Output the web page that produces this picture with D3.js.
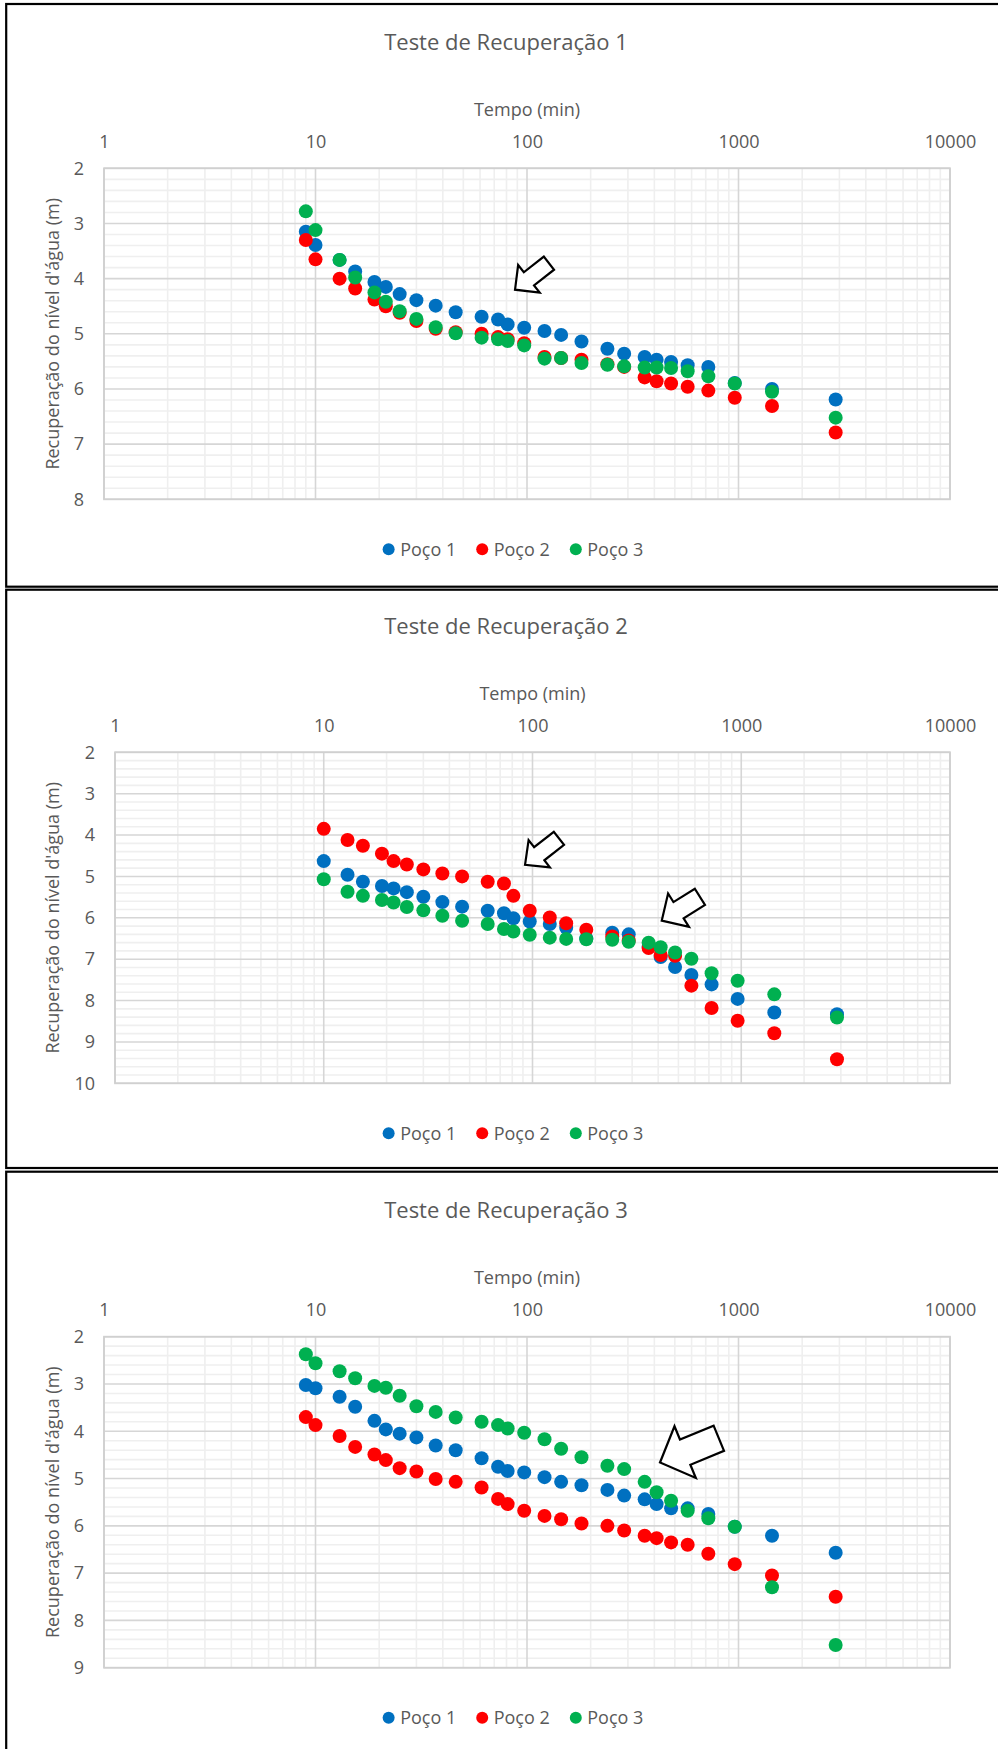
<!DOCTYPE html>
<html>
<head>
<meta charset="utf-8">
<script src="https://cdn.jsdelivr.net/npm/d3@7"></script>
<style>
  html, body { margin: 0; padding: 0; background: #fff; }
  svg { display: block; }
  text { font-family: "Open Sans", sans-serif; fill: #595959; }
</style>
</head>
<body>
<svg id="fig" width="998" height="1749"></svg>
<script>
// ---- Tempos de leitura (min) ----
const tempos1 = [9, 10, 13, 15.4, 19, 21.5, 25, 30, 37, 46, 61, 73, 81, 97, 121, 145, 181, 240, 288, 360, 410, 480, 575, 720, 960, 1440, 2880];
const tempos2 = [10, 13, 15.4, 19, 21.6, 25, 30, 37, 46, 61, 73, 81, 97, 121, 145, 181, 241, 289, 360, 411, 482, 577, 721, 961, 1440, 2875];
const tempos3 = [9, 10, 13, 15.4, 19, 21.5, 25, 30, 37, 46, 61, 73, 81, 97, 121, 145, 181, 240, 288, 360, 410, 480, 575, 720, 960, 1440, 2880];

// ---- Teste de Recuperação 1: nível d'água (m) ----
const poco1_t1 = [3.15, 3.39, 3.66, 3.87, 4.06, 4.15, 4.28, 4.39, 4.49, 4.61, 4.69, 4.74, 4.83, 4.89, 4.95, 5.02, 5.14, 5.27, 5.36, 5.42, 5.47, 5.51, 5.57, 5.60, 5.89, 6.00, 6.19];
const poco2_t1 = [3.30, 3.65, 4.00, 4.18, 4.38, 4.50, 4.62, 4.77, 4.91, 4.97, 5.00, 5.06, 5.10, 5.17, 5.42, 5.44, 5.47, 5.55, 5.60, 5.79, 5.86, 5.90, 5.96, 6.03, 6.16, 6.31, 6.79];
const poco3_t1 = [2.78, 3.12, 3.66, 3.98, 4.25, 4.42, 4.59, 4.73, 4.88, 4.99, 5.07, 5.10, 5.13, 5.21, 5.45, 5.44, 5.53, 5.56, 5.59, 5.61, 5.61, 5.62, 5.68, 5.77, 5.90, 6.05, 6.52];

// ---- Teste de Recuperação 2 ----
const poco1_t2 = [4.63, 4.96, 5.13, 5.23, 5.29, 5.38, 5.49, 5.62, 5.73, 5.83, 5.89, 6.01, 6.09, 6.15, 6.24, 6.50, 6.36, 6.40, 6.70, 6.95, 7.19, 7.38, 7.61, 7.96, 8.29, 8.33];
const poco2_t2 = [3.85, 4.12, 4.26, 4.45, 4.63, 4.71, 4.83, 4.93, 5.00, 5.13, 5.17, 5.47, 5.83, 5.99, 6.13, 6.29, 6.45, 6.55, 6.73, 6.90, 6.92, 7.64, 8.18, 8.49, 8.79, 9.42];
const poco3_t2 = [5.07, 5.37, 5.47, 5.57, 5.63, 5.74, 5.82, 5.95, 6.07, 6.15, 6.27, 6.33, 6.41, 6.48, 6.51, 6.52, 6.53, 6.58, 6.60, 6.71, 6.84, 6.99, 7.34, 7.52, 7.85, 8.41];

// ---- Teste de Recuperação 3 ----
const poco1_t3 = [3.02, 3.09, 3.27, 3.48, 3.78, 3.96, 4.05, 4.13, 4.30, 4.40, 4.57, 4.75, 4.84, 4.87, 4.97, 5.07, 5.14, 5.24, 5.36, 5.44, 5.54, 5.63, 5.63, 5.75, 6.02, 6.21, 6.57];
const poco2_t3 = [3.70, 3.87, 4.10, 4.33, 4.49, 4.61, 4.78, 4.85, 5.01, 5.07, 5.19, 5.43, 5.54, 5.68, 5.79, 5.86, 5.95, 6.00, 6.10, 6.21, 6.26, 6.35, 6.40, 6.59, 6.81, 7.05, 7.50];
const poco3_t3 = [2.37, 2.56, 2.73, 2.88, 3.04, 3.08, 3.25, 3.47, 3.59, 3.71, 3.80, 3.87, 3.94, 4.03, 4.17, 4.37, 4.55, 4.73, 4.80, 5.07, 5.29, 5.47, 5.68, 5.84, 6.02, 7.30, 8.52];

// ---- Rótulos ----
const nomesPocos = ["Poço 1", "Poço 2", "Poço 3"];
const coresPocos = ["#0070C0", "#FF0000", "#00B050"];
const ticksTempo = [1, 10, 100, 1000, 10000];
const titulos = ["Teste de Recuperação 1", "Teste de Recuperação 2", "Teste de Recuperação 3"];
const rotuloX = "Tempo (min)";
const rotuloY = "Recuperação do nível d'água (m)";

// ---- Layout de cada painel ----
const paineis = [
  { titulo: titulos[0], tempos: tempos1, series: [poco1_t1, poco2_t1, poco3_t1], yMax: 8,
    caixa: { top: 4, bottom: 586.7 }, plot: { x0: 104, x1: 950, y0: 168.3, y1: 499.3 },
    setas: [ { t: 87.8, v: 4.20, angulo: -38, comp: 43, cabeca: 17.6, largCabeca: 35, largHaste: 16.6 } ] },
  { titulo: titulos[1], tempos: tempos2, series: [poco1_t2, poco2_t2, poco3_t2], yMax: 10,
    caixa: { top: 589.7, bottom: 1168 }, plot: { x0: 115, x1: 950, y0: 752.3, y1: 1083.3 },
    setas: [ { t: 92.1, v: 4.72, angulo: -38, comp: 43, cabeca: 18, largCabeca: 34.5, largHaste: 16.6 },
             { t: 416, v: 6.07, angulo: -32, comp: 45, cabeca: 19.8, largCabeca: 39.4, largHaste: 19.2 } ] },
  { titulo: titulos[2], tempos: tempos3, series: [poco1_t3, poco2_t3, poco3_t3], yMax: 9,
    caixa: { top: 1171.7, bottom: 1770 }, plot: { x0: 104, x1: 950, y0: 1336.7, y1: 1667.7 },
    setas: [ { t: 425.5, v: 4.66, angulo: -22.4, comp: 63.6, cabeca: 27.2, largCabeca: 56, largHaste: 27.3 } ] }
];

const svg = d3.select("#fig");

function desenhaPainel(p) {
  const g = svg.append("g");

  // moldura do painel
  g.append("rect")
    .attr("x", 6.2).attr("y", p.caixa.top)
    .attr("width", 1000).attr("height", p.caixa.bottom - p.caixa.top)
    .attr("fill", "none").attr("stroke", "#000").attr("stroke-width", 2.2);

  const x = d3.scaleLog().domain([1, 10000]).range([p.plot.x0, p.plot.x1]);
  const y = d3.scaleLinear().domain([2, p.yMax]).range([p.plot.y0, p.plot.y1]);

  // grade secundária
  const menoresX = [];
  [1, 10, 100, 1000].forEach(d => { for (let k = 2; k <= 9; k++) menoresX.push(d * k); });
  const menoresY = d3.range(2, p.yMax + 1e-9, 0.2).filter(v => Math.abs(v - Math.round(v)) > 1e-6);
  const grade = g.append("g");
  grade.selectAll("line.mx").data(menoresX).join("line")
    .attr("x1", d => x(d)).attr("x2", d => x(d))
    .attr("y1", p.plot.y0).attr("y2", p.plot.y1)
    .attr("stroke", "#efefef").attr("stroke-width", 1.6);
  grade.selectAll("line.my").data(menoresY).join("line")
    .attr("x1", p.plot.x0).attr("x2", p.plot.x1)
    .attr("y1", d => y(d)).attr("y2", d => y(d))
    .attr("stroke", "#efefef").attr("stroke-width", 1.6);

  // grade principal
  const principaisY = d3.range(2, p.yMax + 1);
  grade.selectAll("line.Mx").data(ticksTempo).join("line")
    .attr("x1", d => x(d)).attr("x2", d => x(d))
    .attr("y1", p.plot.y0).attr("y2", p.plot.y1)
    .attr("stroke", "#d6d6d6").attr("stroke-width", 1.6);
  grade.selectAll("line.My").data(principaisY).join("line")
    .attr("x1", p.plot.x0).attr("x2", p.plot.x1)
    .attr("y1", d => y(d)).attr("y2", d => y(d))
    .attr("stroke", "#d6d6d6").attr("stroke-width", 1.6);
  g.append("rect")
    .attr("x", p.plot.x0).attr("y", p.plot.y0)
    .attr("width", p.plot.x1 - p.plot.x0).attr("height", p.plot.y1 - p.plot.y0)
    .attr("fill", "none").attr("stroke", "#d0d0d0").attr("stroke-width", 1.8);

  // eixos
  const eixoX = g.append("g").attr("transform", `translate(0,${p.plot.y0})`)
    .call(d3.axisTop(x).tickValues(ticksTempo).tickFormat(d3.format("d")).tickSize(0).tickPadding(20.5));
  const eixoY = g.append("g").attr("transform", `translate(${p.plot.x0},0)`)
    .call(d3.axisLeft(y).tickValues(principaisY).tickFormat(d3.format("d")).tickSize(0).tickPadding(20));
  [eixoX, eixoY].forEach(e => {
    e.select(".domain").remove();
    e.selectAll("text").attr("font-family", "Open Sans").attr("font-size", 18).attr("fill", "#595959");
  });

  // títulos
  g.append("text").attr("x", 506).attr("y", p.plot.y0 - 118.8)
    .attr("text-anchor", "middle").attr("font-size", 22).text(p.titulo);
  g.append("text").attr("x", (p.plot.x0 + p.plot.x1) / 2).attr("y", p.plot.y0 - 52.4)
    .attr("text-anchor", "middle").attr("font-size", 18).text(rotuloX);
  g.append("text")
    .attr("transform", `translate(58.5,${(p.plot.y0 + p.plot.y1) / 2}) rotate(-90)`)
    .attr("text-anchor", "middle").attr("font-size", 18).text(rotuloY);

  // pontos
  p.series.forEach((serie, i) => {
    g.append("g").selectAll("circle")
      .data(serie.map((v, j) => ({ t: p.tempos[j], v })))
      .join("circle")
      .attr("cx", d => x(d.t)).attr("cy", d => y(d.v))
      .attr("r", 7).attr("fill", coresPocos[i]);
  });

  // setas de destaque
  p.setas.forEach(s => {
    const hw = s.largCabeca / 2, sw = s.largHaste / 2, h = s.cabeca, L = s.comp;
    const pts = [[0, 0], [h, -hw], [h, -sw], [L, -sw], [L, sw], [h, sw], [h, hw]];
    g.append("polygon")
      .attr("points", pts.map(q => q.join(",")).join(" "))
      .attr("transform", `translate(${x(s.t)},${y(s.v)}) rotate(${s.angulo})`)
      .attr("fill", "#fff").attr("stroke", "#000").attr("stroke-width", 2.2)
      .attr("stroke-linejoin", "miter");
  });

  // legenda
  const ly = p.plot.y1 + 50;
  const leg = g.append("g");
  let cx = 0;
  const itens = nomesPocos.map((nome, i) => {
    const it = leg.append("g");
    it.append("circle").attr("cx", 0).attr("cy", 0).attr("r", 6).attr("fill", coresPocos[i]);
    const t = it.append("text").attr("x", 11.5).attr("y", 6.6).attr("font-size", 18).text(nome);
    const w = 11.5 + t.node().getComputedTextLength();
    it.attr("transform", `translate(${cx},0)`);
    cx += w + 26;
    return w;
  });
  const total = cx - 26 + 6;
  leg.attr("transform", `translate(${513 - total / 2 + 6},${ly})`);
}

paineis.forEach(desenhaPainel);
</script>
</body>
</html>
